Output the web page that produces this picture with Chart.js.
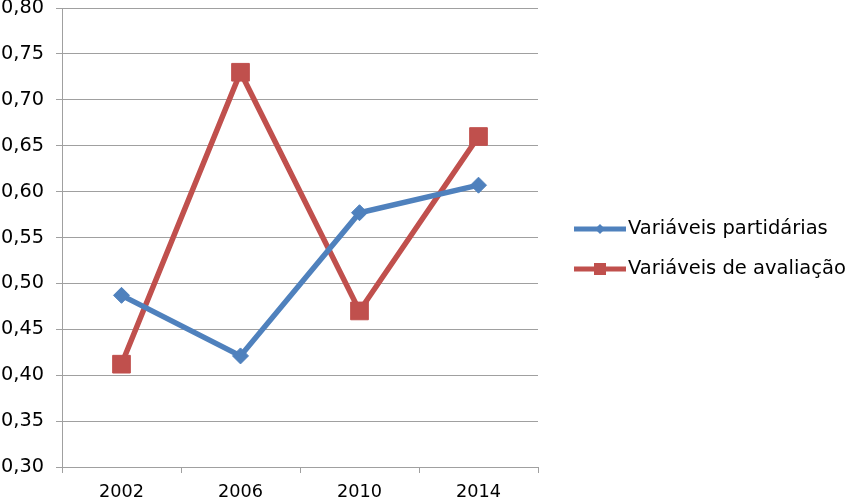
<!DOCTYPE html>
<html><head><meta charset="utf-8">
<script src="https://cdn.jsdelivr.net/npm/chart.js@4/dist/chart.umd.min.js"></script>
<style>html,body{margin:0;padding:0;background:#fff}#w{width:850px;height:497px;position:relative}</style>
</head><body><div id="w"><canvas id="c"></canvas></div>
<script>
const categories = ['2002', '2006', '2010', '2014'];
const partidarias = [0.487, 0.421, 0.577, 0.607];
const avaliacao = [0.412, 0.730, 0.470, 0.660];
const seriesNames = ['Variáveis partidárias', 'Variáveis de avaliação'];
const yMin = 0.30, yMax = 0.80, yStep = 0.05;

const FONT = 'DejaVu Sans, Verdana, sans-serif';
const legendPlugin = {
  id: 'sideLegend',
  afterDraw(chart) {
    const ctx = chart.ctx;
    const items = [
      {label: seriesNames[0], color: '#4F81BD', style: 'diamond', y: 229},
      {label: seriesNames[1], color: '#C0504D', style: 'square', y: 269}
    ];
    ctx.save();
    items.forEach(it => {
      ctx.strokeStyle = it.color; ctx.lineWidth = 5; ctx.lineCap = 'butt';
      ctx.beginPath(); ctx.moveTo(574, it.y); ctx.lineTo(626, it.y); ctx.stroke();
      ctx.fillStyle = it.color;
      ctx.beginPath();
      if (it.style === 'diamond') {
        ctx.moveTo(600, it.y - 5); ctx.lineTo(605, it.y); ctx.lineTo(600, it.y + 5); ctx.lineTo(595, it.y);
      } else {
        ctx.rect(594, it.y - 6, 12, 12);
      }
      ctx.closePath(); ctx.fill();
      ctx.fillStyle = '#000'; ctx.font = '19.5px ' + FONT; ctx.textBaseline = 'middle'; ctx.textAlign = 'left';
      ctx.fillText(it.label, 628, it.y);
    });
    ctx.restore();
  }
};

new Chart(document.getElementById('c'), {
  type: 'line',
  data: {
    labels: categories,
    datasets: [
      {label: seriesNames[0], data: partidarias, borderColor: '#4F81BD', backgroundColor: '#4F81BD', borderWidth: 5.5,
       pointStyle: 'rectRot', pointRadius: 8, pointHoverRadius: 8, pointBorderWidth: 1, tension: 0},
      {label: seriesNames[1], data: avaliacao, borderColor: '#C0504D', backgroundColor: '#C0504D', borderWidth: 5.5,
       pointStyle: 'rect', pointRadius: 12.5, pointHoverRadius: 12.5, pointBorderWidth: 1, tension: 0}
    ]
  },
  options: {
    responsive: true, maintainAspectRatio: false, animation: false,
    layout: {autoPadding: false, padding: {left: 0, right: 312, top: 8, bottom: 0}},
    plugins: {legend: {display: false}, tooltip: {enabled: false}},
    scales: {
      x: {
        offset: true,
        afterFit(s) { s.height = 30; s.paddingLeft = 0; s.paddingRight = 0; },
        grid: {offset: true, drawOnChartArea: false, color: '#a0a0a0', tickLength: 6, lineWidth: 1},
        border: {color: '#a0a0a0', width: 1},
        ticks: {color: '#000', font: {family: FONT, size: 17.7}, padding: 9}
      },
      y: {
        min: yMin, max: yMax,
        afterFit(s) { s.width = 62; s.paddingTop = 0; s.paddingBottom = 0; },
        grid: {color: '#a0a0a0', tickLength: 6, lineWidth: 1},
        border: {color: '#a0a0a0', width: 1},
        ticks: {stepSize: yStep, color: '#000', font: {family: FONT, size: 19.3}, padding: 12,
          callback: v => v.toFixed(2).replace('.', ',')}
      }
    }
  },
  plugins: [legendPlugin]
});
</script></body></html>
